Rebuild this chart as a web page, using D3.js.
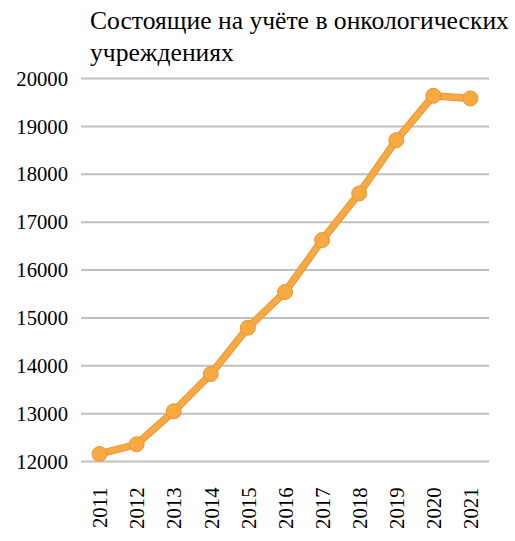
<!DOCTYPE html>
<html>
<head>
<meta charset="utf-8">
<script src="https://cdn.jsdelivr.net/npm/d3@7/dist/d3.min.js"></script>
<style>
  html, body { margin: 0; padding: 0; background: #fff; }
  svg { display: block; }
</style>
</head>
<body>
<div id="chart"></div>
<script>
// Registered at oncology institutions, by year
const years = ["2011", "2012", "2013", "2014", "2015", "2016", "2017", "2018", "2019", "2020", "2021"];
const registered = [12157, 12360, 13048, 13827, 14795, 15540, 16625, 17599, 18711, 19640, 19582];
const yTicks = [12000, 13000, 14000, 15000, 16000, 17000, 18000, 19000, 20000];
const titleLines = ["Состоящие на учёте в онкологических", "учреждениях"];

const width = 515, height = 541;
const margin = { top: 78.5, right: 26, bottom: 79.5, left: 81 };
const serif = "Liberation Serif";

const svg = d3.select("#chart").append("svg")
  .attr("width", width)
  .attr("height", height);

const x = d3.scalePoint()
  .domain(years)
  .range([margin.left, width - margin.right])
  .padding(0.5);

const y = d3.scaleLinear()
  .domain([12000, 20000])
  .range([height - margin.bottom, margin.top]);

// Title
const title = svg.append("text")
  .attr("x", 90)
  .attr("y", 29)
  .attr("font-family", serif)
  .attr("font-size", 25.6)
  .attr("fill", "#000");
titleLines.forEach((line, i) => {
  title.append("tspan")
    .attr("x", 90)
    .attr("dy", i === 0 ? 0 : 32)
    .text(line);
});

// Horizontal gridlines
svg.append("g")
  .selectAll("line")
  .data(yTicks)
  .join("line")
  .attr("x1", margin.left)
  .attr("x2", width - margin.right)
  .attr("y1", d => y(d))
  .attr("y2", d => y(d))
  .attr("stroke", "#c0c0c0")
  .attr("stroke-width", 2);

// Y axis labels
const yAxis = d3.axisLeft(y).tickValues(yTicks).tickSize(0).tickPadding(13).tickFormat(d3.format("d"));
svg.append("g")
  .attr("transform", `translate(${margin.left},0)`)
  .call(yAxis)
  .attr("font-family", serif)
  .attr("font-size", 20.7)
  .call(g => g.select(".domain").remove())
  .call(g => g.selectAll("text").attr("fill", "#000"));

// X axis labels, rotated
const xAxis = d3.axisBottom(x).tickSize(0).tickPadding(0);
svg.append("g")
  .attr("transform", `translate(0,${height - margin.bottom})`)
  .call(xAxis)
  .attr("font-family", serif)
  .attr("font-size", 20.7)
  .call(g => g.select(".domain").remove())
  .call(g => g.selectAll("text")
    .attr("fill", "#000")
    .attr("text-anchor", "end")
    .attr("dy", "0.35em")
    .attr("transform", "translate(0,26) rotate(-90)")
    .attr("x", 0)
    .attr("y", 0));

// Series line
const line = d3.line()
  .x((d, i) => x(years[i]))
  .y(d => y(d));

svg.append("path")
  .datum(registered)
  .attr("d", line)
  .attr("fill", "none")
  .attr("stroke", "#e39a3c")
  .attr("stroke-width", 7.5)
  .attr("stroke-linejoin", "round");

svg.append("path")
  .datum(registered)
  .attr("d", line)
  .attr("fill", "none")
  .attr("stroke", "#f8a93f")
  .attr("stroke-width", 5.5)
  .attr("stroke-linejoin", "round");

// Markers
svg.append("g")
  .selectAll("circle")
  .data(registered)
  .join("circle")
  .attr("cx", (d, i) => x(years[i]))
  .attr("cy", d => y(d))
  .attr("r", 7.5)
  .attr("fill", "#f8a93f")
  .attr("stroke", "#e39a3c")
  .attr("stroke-width", 1);
</script>
</body>
</html>
